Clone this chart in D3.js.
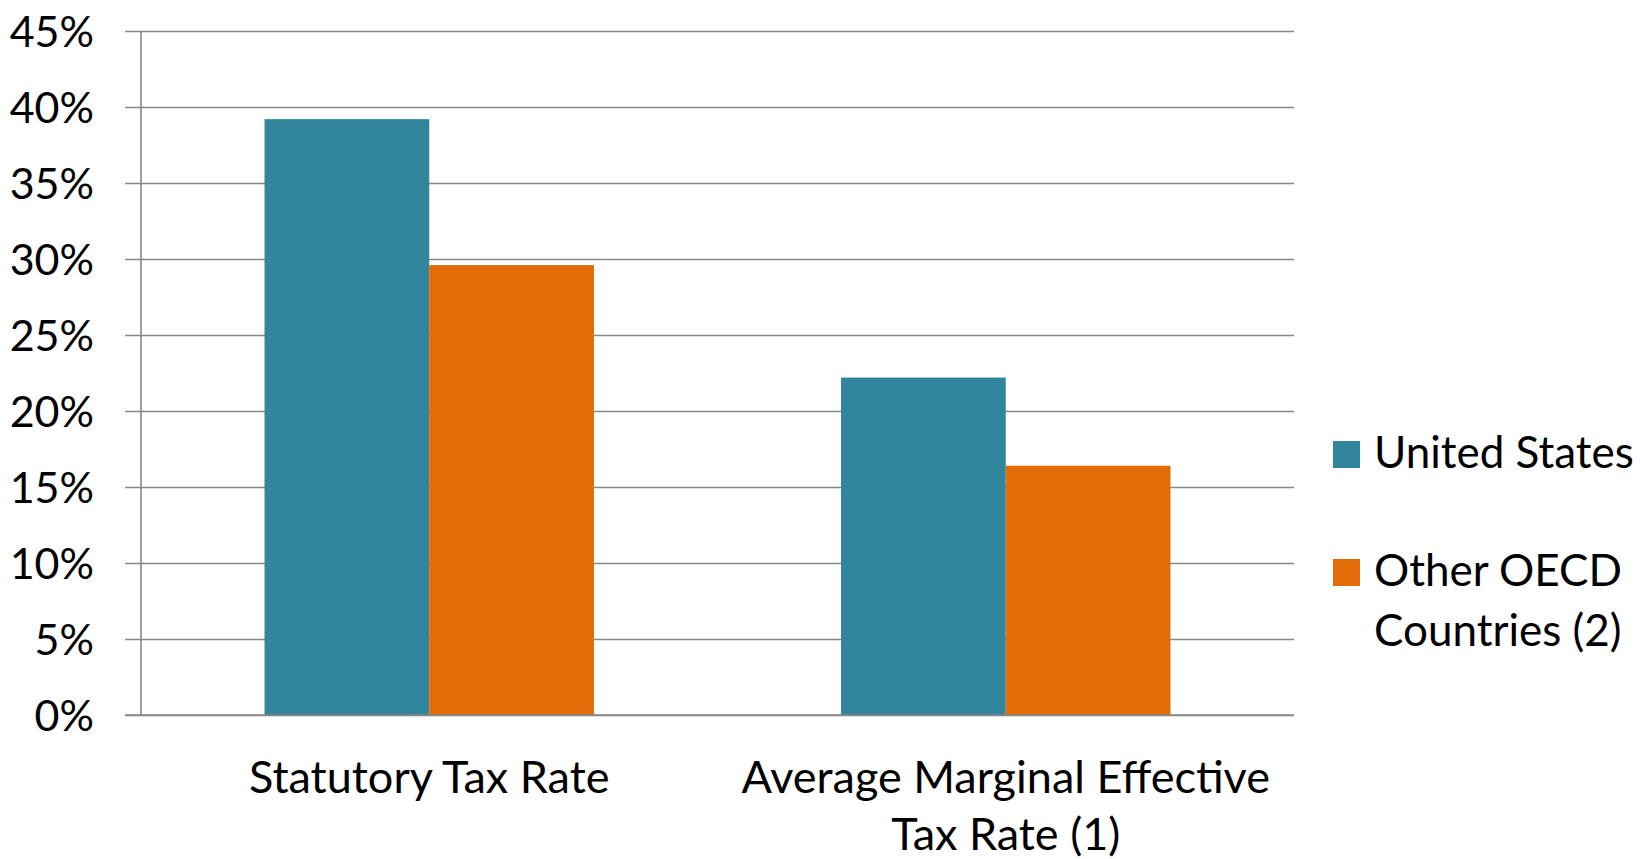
<!DOCTYPE html>
<html>
<head>
<meta charset="utf-8">
<script src="https://cdn.jsdelivr.net/npm/d3@7"></script>
<style>
  html, body { margin: 0; padding: 0; background: #fff; }
  svg { display: block; }
  text { font-family: Lato, "Open Sans", sans-serif; fill: #000; }
</style>
</head>
<body>
<svg id="chart" width="1640" height="859"></svg>
<script>
// Corporate tax rates: United States vs. other OECD countries
const categories = [["Statutory Tax Rate"], ["Average Marginal Effective", "Tax Rate (1)"]];
const seriesNames = ["United States", ["Other OECD", "Countries (2)"]];
const usRates = [39.2, 22.2];
const oecdRates = [29.6, 16.4];
const yTicks = [0, 5, 10, 15, 20, 25, 30, 35, 40, 45];
const colors = ["#31859C", "#E36C09"];

const svg = d3.select("#chart");
const plot = { left: 141, right: 1294, top: 31, bottom: 715 };

const x0 = d3.scaleBand().domain(d3.range(categories.length))
  .range([plot.left, plot.right]).paddingInner(0).paddingOuter(0);
// gap width 150% of a bar: two bars + 1.5 bar gap per category
const barW = x0.bandwidth() / 3.5;
const x1 = d3.scaleBand().domain([0, 1])
  .range([x0.bandwidth() / 2 - barW, x0.bandwidth() / 2 + barW]);
const y = d3.scaleLinear().domain([0, 45]).range([plot.bottom, plot.top]);

// gridlines with outside tick marks
const yAxis = d3.axisLeft(y).tickValues(yTicks)
  .tickSize(-(plot.right - plot.left)).tickSizeOuter(0)
  .tickFormat(d => d + "%").tickPadding(47);
const gy = svg.append("g").attr("transform", `translate(${plot.left},0)`).call(yAxis);
gy.select(".domain").remove();
gy.selectAll(".tick line").attr("stroke", "#878787").attr("stroke-width", 1.6)
  .attr("x1", -16);
gy.selectAll(".tick text").attr("font-size", 43).attr("dy", "0.36em")
  .style("font-family", "Lato, sans-serif");

// vertical axis line
svg.append("line").attr("x1", plot.left).attr("x2", plot.left)
  .attr("y1", plot.top).attr("y2", plot.bottom)
  .attr("stroke", "#878787").attr("stroke-width", 1.6);

// bars
const data = categories.map((c, i) => [usRates[i], oecdRates[i]]);
const groups = svg.append("g").selectAll("g").data(data).join("g")
  .attr("transform", (d, i) => `translate(${x0(i)},0)`);
groups.selectAll("rect").data(d => d).join("rect")
  .attr("x", (d, j) => x1(j))
  .attr("width", x1.bandwidth())
  .attr("y", d => y(d))
  .attr("height", d => y(0) - y(d))
  .attr("fill", (d, j) => colors[j]);

// horizontal axis line on top of the bars
svg.append("line").attr("x1", plot.left - 16).attr("x2", plot.right)
  .attr("y1", plot.bottom).attr("y2", plot.bottom)
  .attr("stroke", "#878787").attr("stroke-width", 1.6);

// category labels
const catLabels = svg.append("g").selectAll("text").data(categories).join("text")
  .attr("x", (d, i) => x0(i) + x0.bandwidth() / 2)
  .attr("y", 793)
  .attr("text-anchor", "middle")
  .attr("font-size", 45);
catLabels.selectAll("tspan").data(d => d).join("tspan")
  .attr("x", function () { return this.parentNode.getAttribute("x"); })
  .attr("dy", (d, k) => k === 0 ? 0 : 57)
  .text(d => d);

// legend
const legend = svg.append("g");
const legendRows = [{ y: 441, lines: [seriesNames[0]] }, { y: 559, lines: seriesNames[1] }];
legendRows.forEach((row, j) => {
  legend.append("rect").attr("x", 1333).attr("y", row.y)
    .attr("width", 27).attr("height", 27).attr("fill", colors[j]);
  const t = legend.append("text").attr("x", 1374).attr("y", row.y + 27).attr("font-size", 44);
  t.selectAll("tspan").data(row.lines).join("tspan")
    .attr("x", 1374).attr("dy", (d, k) => k === 0 ? 0 : 60).text(d => d);
});
</script>
</body>
</html>
